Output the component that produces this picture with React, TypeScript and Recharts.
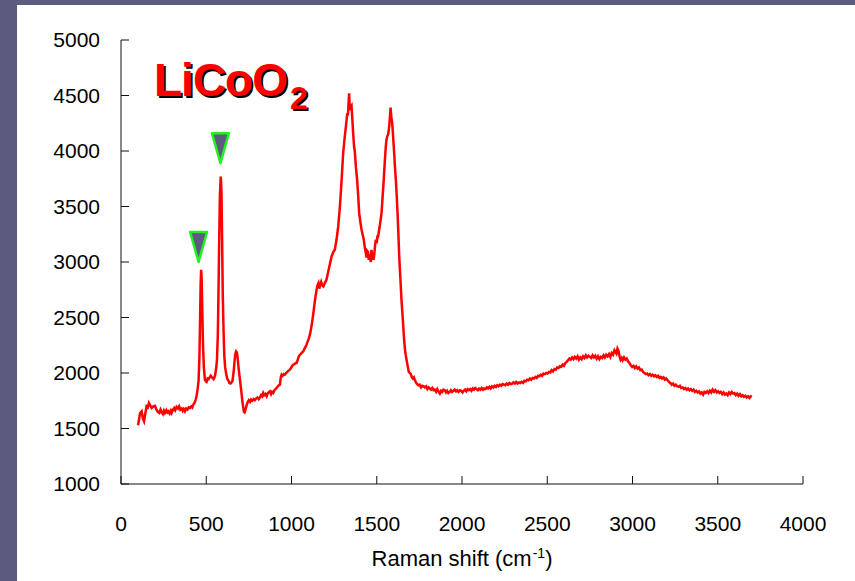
import React from 'react';
import { ComposedChart, Line, Scatter, XAxis, YAxis } from 'recharts';

// Raman spectrum of LiCoO2: [shift cm-1, intensity]
const spectrum: [number, number][] = [
  [100, 1530], [112, 1640], [121, 1655], [128, 1590], [135, 1565], [143, 1640], [150, 1700], [157, 1690],
  [164, 1730], [172, 1705], [180, 1685], [190, 1700], [199, 1705], [208, 1670], [216, 1650], [225, 1640],
  [232, 1670], [238, 1650], [246, 1630], [252, 1660], [258, 1640], [266, 1665], [272, 1645], [277, 1655],
  [285, 1635], [292, 1660], [297, 1640], [305, 1670], [312, 1685], [318, 1665], [326, 1695], [334, 1680],
  [341, 1700], [348, 1670], [356, 1680], [362, 1660], [368, 1675], [375, 1655], [382, 1680], [390, 1670],
  [397, 1690], [404, 1685], [412, 1700], [418, 1690], [424, 1715], [431, 1730], [438, 1760], [444, 1800],
  [449, 1850], [455, 1930], [460, 2150], [464, 2500], [467, 2800], [470, 2930], [473, 2850], [477, 2550],
  [481, 2250], [486, 2050], [492, 1940], [498, 1925], [502, 1920], [508, 1950], [514, 1945], [520, 1960],
  [526, 1975], [531, 1965], [537, 1955], [543, 1945], [548, 1960], [553, 1990], [558, 2040], [563, 2120],
  [568, 2350], [572, 2750], [576, 3200], [580, 3600], [585, 3770], [589, 3650], [593, 3200], [597, 2700],
  [602, 2350], [606, 2150], [611, 2050], [617, 1990], [623, 1950], [630, 1930], [636, 1910], [642, 1905],
  [648, 1915], [654, 1930], [660, 2000], [665, 2090], [670, 2170], [675, 2195], [680, 2185], [685, 2120],
  [690, 2040], [695, 1975], [700, 1910], [706, 1830], [712, 1745], [717, 1690], [721, 1650], [725, 1645],
  [730, 1670], [737, 1710], [744, 1740], [750, 1755], [757, 1740], [763, 1760], [770, 1750], [778, 1765],
  [785, 1755], [792, 1770], [800, 1780], [808, 1765], [815, 1780], [822, 1800], [828, 1790], [834, 1820],
  [840, 1800], [847, 1810], [854, 1790], [860, 1815], [866, 1825], [873, 1835], [880, 1810], [886, 1830],
  [893, 1820], [900, 1845], [906, 1855], [912, 1865], [920, 1880], [926, 1890], [932, 1895], [937, 1960],
  [942, 1985], [948, 1975], [955, 1990], [961, 1985], [968, 2000], [975, 2010], [982, 2020], [990, 2030],
  [997, 2045], [1004, 2065], [1010, 2075], [1017, 2080], [1024, 2090], [1030, 2090], [1037, 2120], [1043, 2150],
  [1050, 2165], [1056, 2175], [1062, 2185], [1069, 2195], [1075, 2215], [1082, 2235], [1088, 2255], [1095, 2285],
  [1101, 2310], [1108, 2345], [1115, 2400], [1122, 2470], [1130, 2560], [1138, 2660], [1146, 2740], [1152, 2790],
  [1158, 2810], [1163, 2760], [1168, 2790], [1174, 2820], [1180, 2790], [1187, 2780], [1195, 2810], [1205, 2840],
  [1215, 2910], [1225, 2980], [1235, 3050], [1245, 3090], [1254, 3110], [1264, 3200], [1274, 3320], [1284, 3500],
  [1294, 3740], [1303, 3980], [1311, 4110], [1319, 4220], [1327, 4340], [1331, 4320], [1335, 4440], [1338, 4520],
  [1342, 4370], [1347, 4400], [1352, 4410], [1357, 4280], [1362, 4150], [1367, 4040], [1371, 4000], [1378, 3850],
  [1385, 3740], [1391, 3600], [1397, 3440], [1404, 3360], [1411, 3290], [1418, 3240], [1424, 3200], [1430, 3130],
  [1436, 3080], [1440, 3040], [1444, 3100], [1449, 3090], [1453, 3020], [1457, 3070], [1461, 3040], [1465, 3000],
  [1469, 3110], [1473, 3050], [1477, 3080], [1481, 3020], [1485, 3060], [1490, 3150], [1495, 3200], [1500, 3170],
  [1504, 3230], [1508, 3230], [1515, 3300], [1521, 3360], [1528, 3440], [1534, 3580], [1541, 3740], [1547, 3900],
  [1553, 4040], [1557, 4100], [1561, 4130], [1567, 4150], [1573, 4220], [1577, 4300], [1581, 4390], [1586, 4300],
  [1590, 4260], [1594, 4180], [1598, 4080], [1603, 3960], [1607, 3850], [1612, 3740], [1617, 3600], [1622, 3440],
  [1627, 3250], [1631, 3080], [1635, 2950], [1639, 2840], [1645, 2660], [1653, 2480], [1660, 2310], [1665, 2220],
  [1670, 2160], [1677, 2100], [1683, 2050], [1688, 2010], [1694, 2000], [1700, 1990], [1706, 1960], [1712, 1950],
  [1718, 1960], [1723, 1940], [1730, 1915], [1737, 1900], [1745, 1890], [1752, 1895], [1760, 1870], [1767, 1885],
  [1775, 1880], [1782, 1870], [1790, 1880], [1797, 1855], [1804, 1870], [1811, 1860], [1818, 1850], [1826, 1865],
  [1833, 1845], [1840, 1850], [1848, 1830], [1855, 1855], [1862, 1835], [1870, 1815], [1877, 1840], [1884, 1830],
  [1891, 1850], [1899, 1845], [1906, 1825], [1913, 1840], [1920, 1820], [1928, 1830], [1935, 1845], [1942, 1830],
  [1950, 1840], [1957, 1850], [1965, 1835], [1972, 1845], [1980, 1830], [1988, 1845], [1995, 1840], [2003, 1825],
  [2010, 1840], [2018, 1850], [2025, 1835], [2033, 1855], [2040, 1845], [2048, 1855], [2055, 1840], [2063, 1860],
  [2070, 1850], [2078, 1865], [2085, 1855], [2093, 1845], [2100, 1860], [2108, 1850], [2115, 1865], [2123, 1850],
  [2130, 1860], [2138, 1855], [2146, 1870], [2153, 1860], [2161, 1875], [2168, 1860], [2176, 1880], [2184, 1870],
  [2191, 1885], [2199, 1875], [2206, 1890], [2214, 1880], [2222, 1895], [2230, 1885], [2238, 1900], [2246, 1895],
  [2254, 1890], [2262, 1905], [2270, 1895], [2278, 1910], [2286, 1900], [2294, 1905], [2302, 1915], [2310, 1905],
  [2318, 1920], [2326, 1905], [2334, 1915], [2342, 1910], [2350, 1920], [2358, 1910], [2366, 1930], [2374, 1925],
  [2382, 1940], [2390, 1935], [2398, 1950], [2406, 1940], [2414, 1955], [2422, 1950], [2430, 1965], [2438, 1955],
  [2446, 1975], [2454, 1970], [2462, 1985], [2470, 1975], [2478, 1995], [2486, 1990], [2494, 2000], [2502, 1995],
  [2510, 2010], [2518, 2005], [2526, 2025], [2534, 2015], [2542, 2035], [2550, 2030], [2558, 2050], [2566, 2045],
  [2574, 2060], [2582, 2055], [2590, 2075], [2598, 2065], [2606, 2090], [2614, 2100], [2622, 2115], [2630, 2130],
  [2638, 2120], [2646, 2140], [2654, 2125], [2662, 2145], [2670, 2130], [2678, 2150], [2686, 2120], [2694, 2140],
  [2702, 2125], [2710, 2150], [2718, 2135], [2726, 2160], [2734, 2140], [2742, 2155], [2750, 2145], [2758, 2135],
  [2766, 2160], [2774, 2140], [2782, 2155], [2790, 2130], [2798, 2150], [2806, 2125], [2814, 2145], [2822, 2135],
  [2830, 2160], [2838, 2140], [2846, 2165], [2854, 2150], [2862, 2170], [2870, 2145], [2878, 2180], [2886, 2165],
  [2894, 2205], [2900, 2190], [2906, 2175], [2912, 2220], [2918, 2200], [2924, 2150], [2930, 2120], [2936, 2135],
  [2942, 2115], [2950, 2140], [2958, 2120], [2966, 2130], [2974, 2105], [2982, 2090], [2990, 2070], [2998, 2055],
  [3006, 2065], [3014, 2045], [3022, 2060], [3030, 2040], [3038, 2050], [3046, 2025], [3054, 2030], [3062, 2010],
  [3070, 2000], [3078, 1990], [3086, 1995], [3094, 1980], [3102, 1990], [3110, 1975], [3118, 1985], [3126, 1970],
  [3134, 1980], [3142, 1965], [3150, 1975], [3158, 1955], [3166, 1965], [3174, 1950], [3182, 1960], [3190, 1940],
  [3198, 1950], [3206, 1935], [3214, 1920], [3222, 1910], [3230, 1895], [3238, 1905], [3246, 1885], [3254, 1895],
  [3262, 1880], [3270, 1875], [3278, 1885], [3286, 1865], [3294, 1870], [3302, 1855], [3310, 1865], [3318, 1850],
  [3326, 1860], [3334, 1845], [3342, 1855], [3350, 1840], [3358, 1850], [3366, 1830], [3374, 1840], [3382, 1825],
  [3390, 1835], [3398, 1815], [3406, 1825], [3414, 1805], [3422, 1830], [3430, 1820], [3438, 1835], [3446, 1820],
  [3454, 1840], [3462, 1825], [3470, 1850], [3478, 1830], [3486, 1845], [3494, 1825], [3502, 1835], [3510, 1820],
  [3518, 1830], [3526, 1810], [3534, 1825], [3542, 1805], [3550, 1815], [3558, 1800], [3566, 1825], [3574, 1810],
  [3582, 1830], [3590, 1815], [3598, 1820], [3606, 1800], [3614, 1815], [3622, 1795], [3630, 1810], [3638, 1790],
  [3646, 1800], [3654, 1785], [3662, 1795], [3670, 1780], [3678, 1790], [3686, 1775], [3694, 1790], [3700, 1785],
];

// peak markers (tip of each triangle)
const markerShift = [455, 583];
const markerIntensity = [3000, 3890];

const xTicks = [0, 500, 1000, 1500, 2000, 2500, 3000, 3500, 4000];
const yTicks = [1000, 1500, 2000, 2500, 3000, 3500, 4000, 4500, 5000];

const FONT = '"Liberation Sans", Arial, Helvetica, sans-serif';
const FRAME = '#5c5a7e';

const lineData = spectrum.map(([x, y]) => ({ x, y }));
const markerData = markerShift.map((x, i) => ({ x, y: markerIntensity[i] }));

const Triangle = (props: any) => {
  const { cx, cy } = props;
  if (cx == null || cy == null) return null;
  const pts = `${cx - 8.5},${cy - 30} ${cx + 8.5},${cy - 30} ${cx},${cy}`;
  return <polygon points={pts} fill={FRAME} stroke="#22f022" strokeWidth={2.5} strokeLinejoin="round" />;
};

export default function App() {
  return (
    <div style={{ position: 'fixed', left: 0, top: 0, width: 855, height: 581, background: FRAME, fontFamily: FONT }}>
      <div style={{ position: 'absolute', left: 17, top: 5, width: 838, height: 576, background: '#fff' }}>
        <ComposedChart width={838} height={576} margin={{ top: 35, right: 52, bottom: 37, left: 44 }}>
          <XAxis
            type="number"
            dataKey="x"
            domain={[0, 4000]}
            ticks={xTicks}
            interval={0}
            height={60}
            tickSize={-8}
            tickMargin={40}
            axisLine={{ stroke: '#111' }}
            tickLine={{ stroke: '#111' }}
            tick={{ fill: '#000', fontSize: 21, fontFamily: FONT }}
          />
          <YAxis
            type="number"
            dataKey="y"
            domain={[1000, 5000]}
            ticks={yTicks}
            interval={0}
            width={60}
            tickSize={-8}
            tickMargin={29}
            axisLine={{ stroke: '#111' }}
            tickLine={{ stroke: '#111' }}
            tick={{ fill: '#000', fontSize: 21, fontFamily: FONT }}
          />
          <Line
            data={lineData}
            dataKey="y"
            type="linear"
            stroke="#ff0000"
            strokeWidth={2.5}
            dot={false}
            activeDot={false}
            isAnimationActive={false}
          />
          <Scatter data={markerData} dataKey="y" shape={Triangle} isAnimationActive={false} />
        </ComposedChart>
        <div
          style={{
            position: 'absolute',
            left: 137,
            top: 52,
            fontSize: 46,
            lineHeight: '46px',
            fontWeight: 'bold',
            color: '#ff0000',
            letterSpacing: -1,
            textShadow: '2px 2px 0 #000',
            whiteSpace: 'nowrap',
          }}
        >
          LiCoO<span style={{ fontSize: 32, position: 'relative', top: 13, marginLeft: 3 }}>2</span>
        </div>
        <div
          style={{
            position: 'absolute',
            left: 245,
            width: 400,
            top: 542,
            textAlign: 'center',
            fontSize: 22,
            lineHeight: '24px',
            color: '#000',
            whiteSpace: 'nowrap',
          }}
        >
          Raman shift (cm<span style={{ fontSize: 14, position: 'relative', top: -8, marginLeft: 1 }}>-1</span>)
        </div>
      </div>
    </div>
  );
}
